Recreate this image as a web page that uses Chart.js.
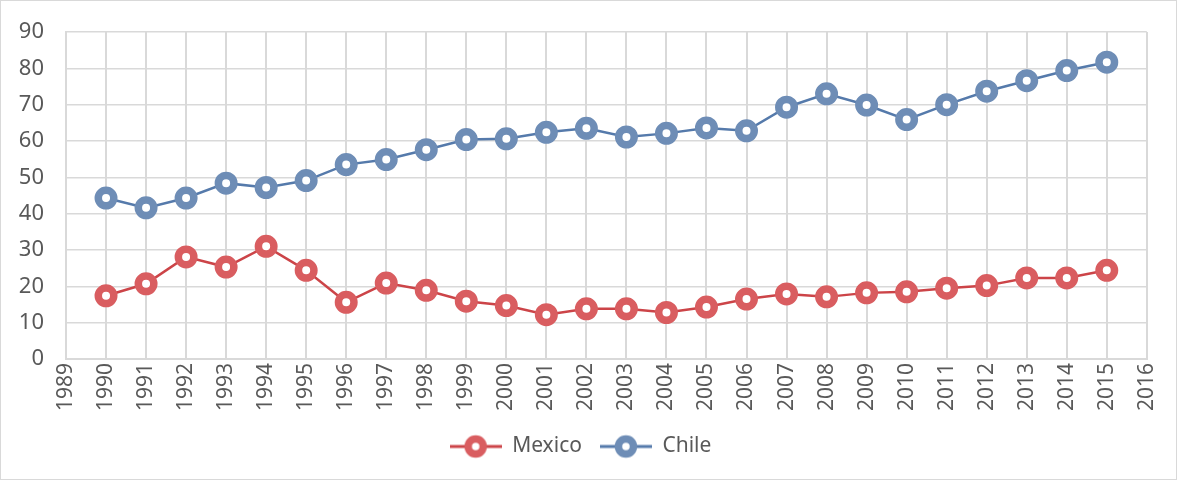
<!DOCTYPE html>
<html lang="en">
<head>
  <meta charset="UTF-8">
  <title>Mexico vs Chile</title>
  <script src="https://cdn.jsdelivr.net/npm/chart.js"></script>
  <style>
    body {
      margin: 0;
      background: white;
    }
    .box {
      width: 1177px;
      height: 480px;
      box-sizing: border-box;
      border: 1px solid #d9d9d9;
      position: relative;
    }
  </style>
</head>
<body>
  <div class="box">
    <canvas id="chart"></canvas>
  </div>

  <script>
    const years = [1990, 1991, 1992, 1993, 1994, 1995, 1996, 1997, 1998, 1999, 2000, 2001, 2002,
                   2003, 2004, 2005, 2006, 2007, 2008, 2009, 2010, 2011, 2012, 2013, 2014, 2015];
    const mexico = [17.4, 20.7, 28.1, 25.3, 31.0, 24.4, 15.6, 20.9, 18.9, 15.9, 14.7, 12.2, 13.8,
                    13.8, 12.8, 14.3, 16.5, 17.9, 17.1, 18.2, 18.5, 19.5, 20.2, 22.3, 22.3, 24.4];
    const chile = [44.3, 41.6, 44.3, 48.4, 47.2, 49.1, 53.5, 54.9, 57.6, 60.4, 60.6, 62.4, 63.5,
                   61.1, 62.1, 63.6, 62.8, 69.3, 73.0, 69.9, 65.9, 70.0, 73.7, 76.6, 79.4, 81.7];
    const xMin = 1989, xMax = 2016;
    const yMax = 90;

    // legend icon: short line with the ring marker on it
    function legendIcon(lineColor, ringColor) {
      const c = document.createElement('canvas');
      c.width = 52; c.height = 26;
      const g = c.getContext('2d');
      g.strokeStyle = lineColor;
      g.lineWidth = 3;
      g.beginPath(); g.moveTo(0, 13); g.lineTo(52, 13); g.stroke();
      g.fillStyle = 'white';
      g.strokeStyle = ringColor;
      g.lineWidth = 7.5;
      g.beginPath(); g.arc(26, 13, 7.5, 0, Math.PI * 2); g.fill(); g.stroke();
      return c;
    }

    const textColor = '#595959';
    const gridColor = '#d9d9d9';
    const icons = [legendIcon('#cc4448', '#d95d60'), legendIcon('#557aab', '#6e8db6')];

    new Chart(document.getElementById('chart'), {
      type: 'line',
      data: {
        datasets: [
          {
            label: 'Mexico',
            data: years.map((y, i) => ({ x: y, y: mexico[i] })),
            borderColor: '#cc4448',
            borderWidth: 2.5,
            pointStyle: 'circle',
            pointRadius: 7.75,
            pointBorderWidth: 7.5,
            pointBackgroundColor: 'white',
            pointBorderColor: '#d95d60',
            tension: 0
          },
          {
            label: 'Chile',
            data: years.map((y, i) => ({ x: y, y: chile[i] })),
            borderColor: '#557aab',
            borderWidth: 2.5,
            pointStyle: 'circle',
            pointRadius: 7.75,
            pointBorderWidth: 7.5,
            pointBackgroundColor: 'white',
            pointBorderColor: '#6e8db6',
            tension: 0
          }
        ]
      },
      options: {
        responsive: true,
        maintainAspectRatio: false,
        animation: false,
        layout: { padding: { top: 31, right: 17, left: 1, bottom: 12 } },
        scales: {
          x: {
            type: 'linear',
            min: xMin,
            max: xMax,
            ticks: {
              stepSize: 1,
              minRotation: 90,
              maxRotation: 90,
              color: textColor,
              font: { family: 'Noto Sans', size: 21 },
              padding: 4,
              callback: v => String(v)
            },
            grid: { color: gridColor, lineWidth: 2, drawTicks: false },
            border: { color: gridColor, width: 2 },
            afterFit: s => { s.height = 59; }
          },
          y: {
            min: 0,
            max: yMax,
            ticks: {
              stepSize: 10,
              color: textColor,
              font: { family: 'Noto Sans', size: 22 },
              padding: 22
            },
            grid: { color: gridColor, lineWidth: 1.5, drawTicks: false },
            border: { color: gridColor, width: 2 },
            afterFit: s => {
              s.width = 64;
              s.paddingTop = 15;
            }
          }
        },
        plugins: {
          legend: {
            position: 'bottom',
            labels: {
              usePointStyle: true,
              pointStyleWidth: 52,
              color: textColor,
              font: { family: 'Noto Sans', size: 21 },
              padding: 18,
              generateLabels: chart => chart.data.datasets.map((ds, i) => ({
                text: ds.label,
                pointStyle: icons[i],
                fontColor: textColor,
                datasetIndex: i,
                lineWidth: 0
              }))
            }
          },
          tooltip: { enabled: false }
        }
      }
    });
  </script>
</body>
</html>
